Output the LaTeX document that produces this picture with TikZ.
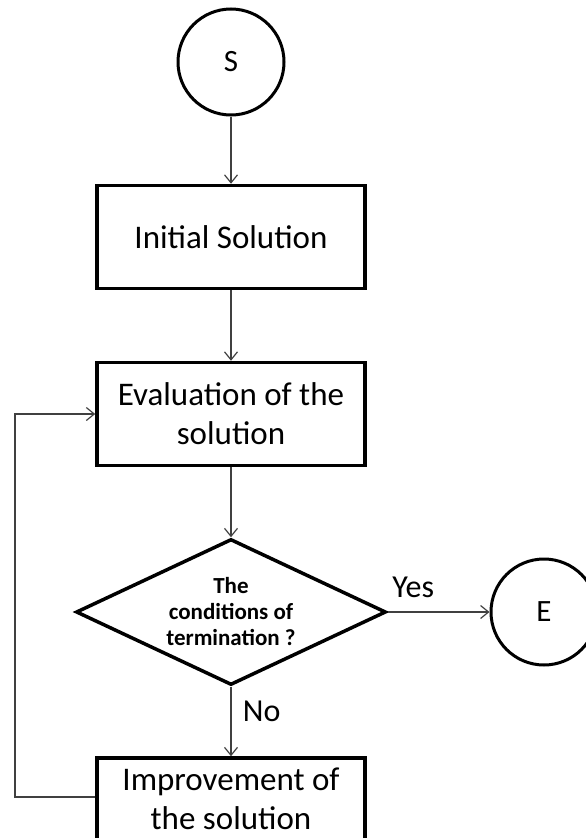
\documentclass[tikz,border=0pt]{standalone}
\usepackage{fontspec}
\setmainfont{Carlito}
\usetikzlibrary{shapes.geometric,arrows.meta}

\begin{document}
\begin{tikzpicture}[x=1pt,y=-1pt,
        box/.style={draw,line width=3.5pt,minimum width=268pt,minimum height=103pt,
            align=center,font=\fontsize{33}{39}\selectfont},
        term/.style={draw,circle,line width=3pt,minimum size=106pt,inner sep=0pt,
            font=\fontsize{31}{39}\selectfont},
        test/.style={draw,diamond,aspect=2.12,line width=3.5pt,inner sep=0pt,
            minimum width=310pt,minimum height=146pt,align=center,
            font=\bfseries\fontsize{23}{26}\selectfont},
        arr/.style={-{Straight Barb[length=8pt,width=13pt]},line width=1.2pt,draw=black!75},
        lab/.style={font=\fontsize{32}{40}\selectfont}]
            \useasboundingbox (0,0) rectangle (586,838);
            \clip (0,0) rectangle (586,838);
            \node[term] (s) at (231,62) {S};
            \node[box] (init) at (231,237) {Initial Solution};
            \node[box] (eval) at (231,414) {Evaluation of the\\solution};
            \node[test] (cond) at (231,612) {The\\conditions of\\termination ?};
            \node[term] (e) at (544,612) {E};
            \node[box,minimum height=82pt] (impr) at (231,799) {Improvement of\\the solution};
            \coordinate (loop) at (15,0);
            \draw[arr] (s) -- (init);
            \draw[arr] (init) -- (eval);
            \draw[arr] (eval) -- (cond);
            \draw[arr] (cond) -- node[lab,above,pos=0.25,yshift=10pt]{Yes} (e);
            \draw[arr] (cond) -- node[lab,right,pos=0.35,xshift=8pt]{No} (impr);
            \draw[arr] ([yshift=2pt]impr.west) -- ([yshift=2pt]impr.west -| loop) |- (eval.west);
        \end{tikzpicture}
\end{document}
